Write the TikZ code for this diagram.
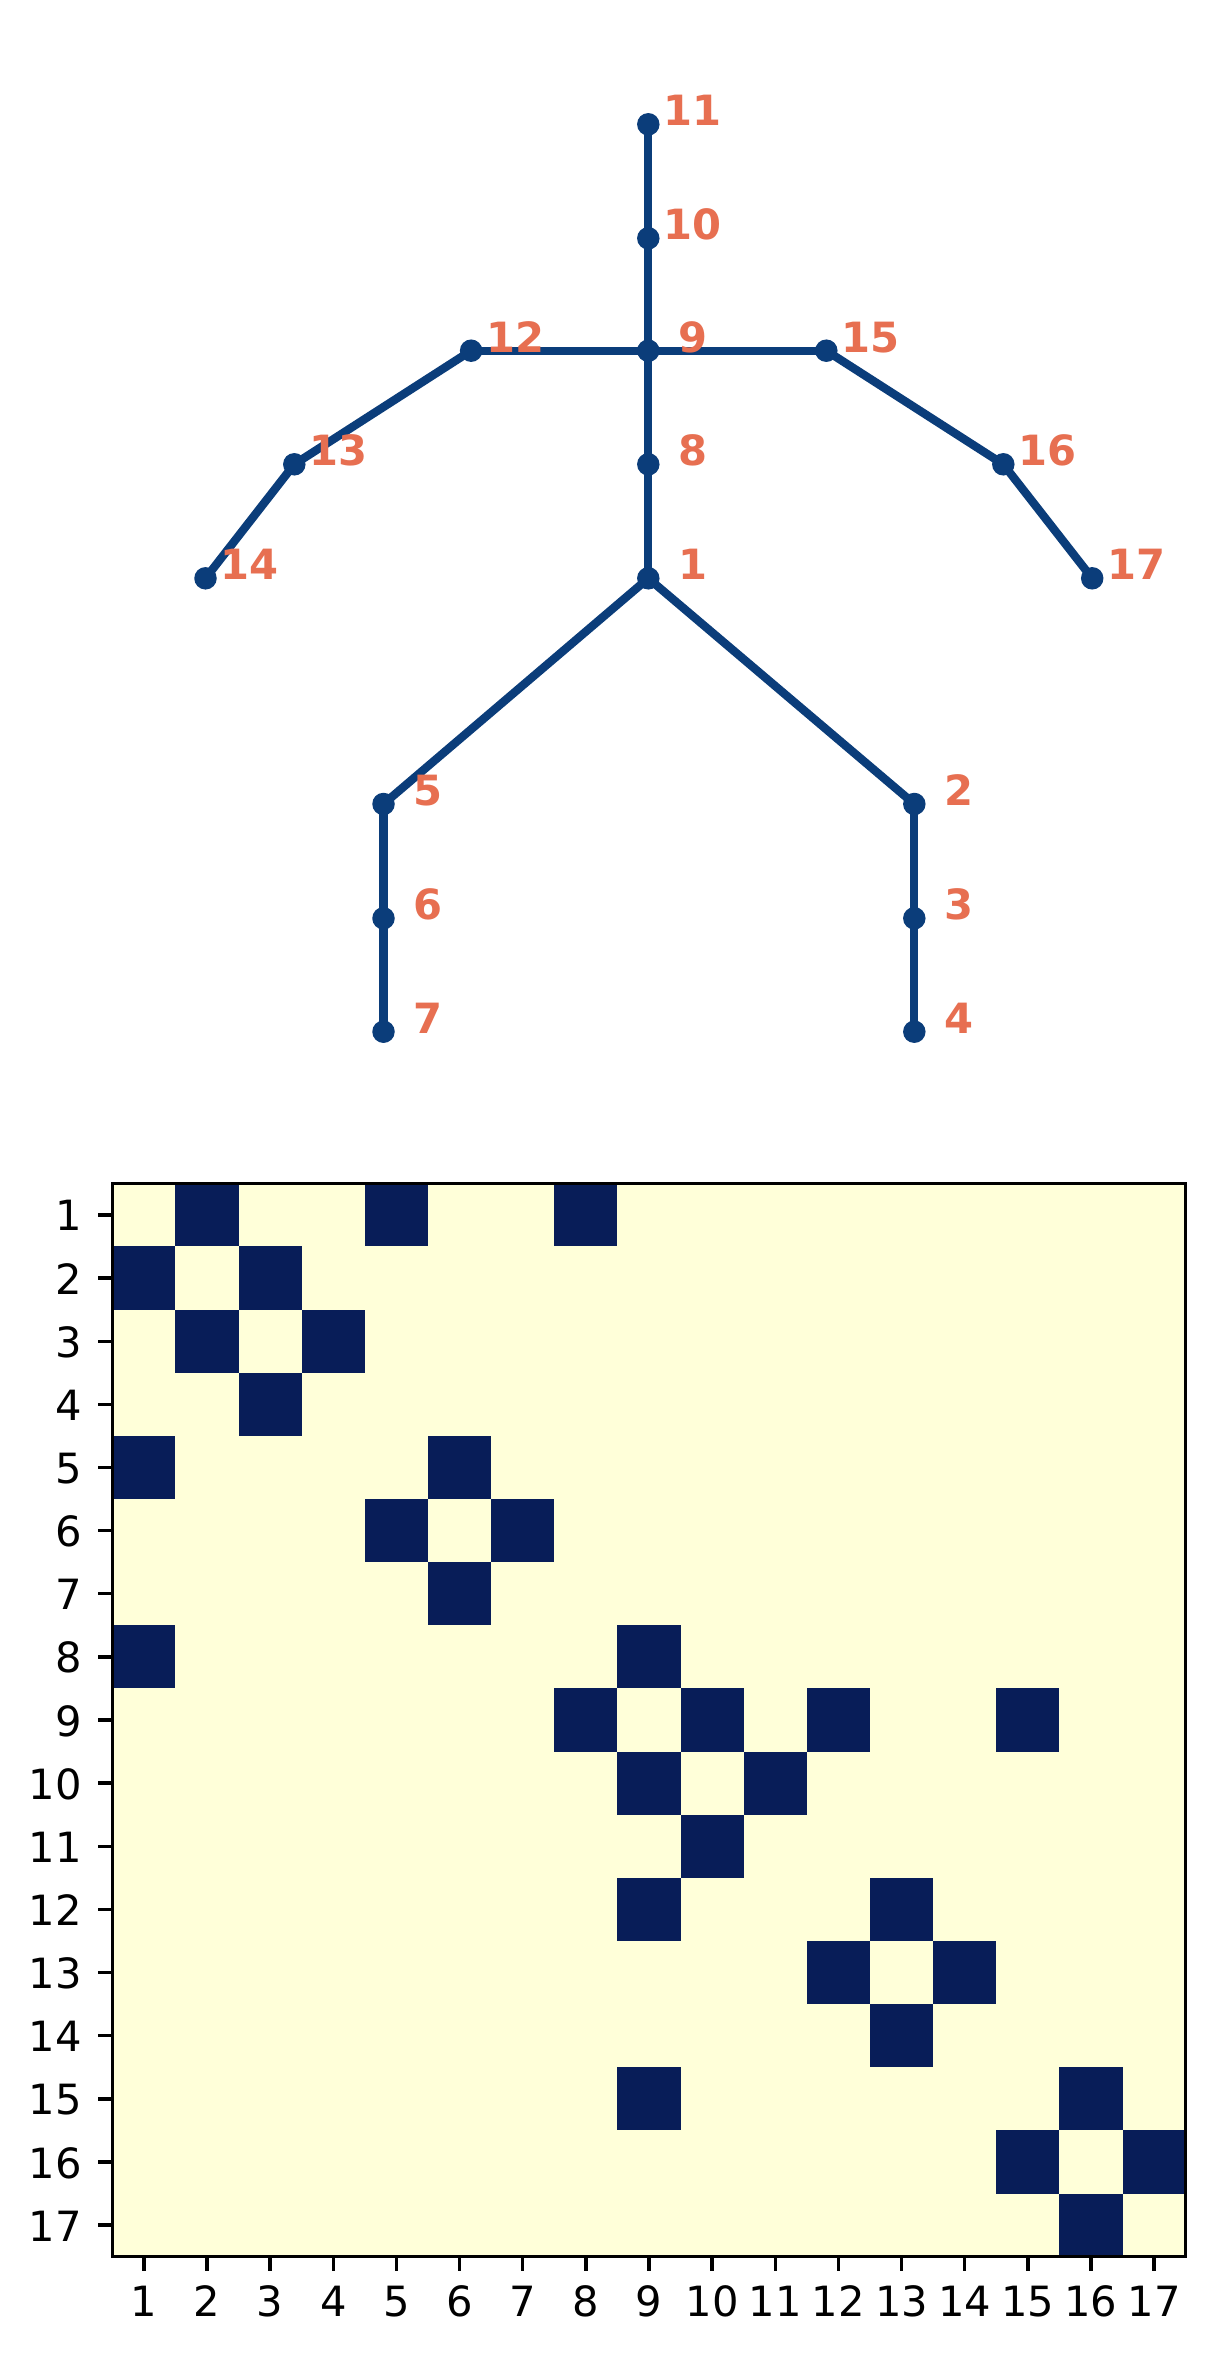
\documentclass[tikz,border=0pt]{standalone}
\usepackage{fontspec}
\setmainfont{DejaVu Sans}
\definecolor{skel}{RGB}{11,61,122}
\definecolor{lab}{RGB}{231,111,81}
\definecolor{cdark}{HTML}{081D58}
\definecolor{clight}{HTML}{FFFFD9}
\begin{document}
\begin{tikzpicture}[x=0.24pt,y=-0.24pt,
  bone/.style={draw=skel,line width=2pt},
  joint/.style={circle,fill=skel,inner sep=0pt,minimum size=5.4pt},
  jlabel/.style={text=lab,font=\bfseries\fontsize{10}{12}\selectfont,anchor=base,inner sep=0pt},
  axtick/.style={line width=0.8pt,draw=black},
  ticklab/.style={font=\fontsize{10}{12}\selectfont,inner sep=0pt}]
\useasboundingbox[fill=white] (0,0) rectangle (1214,2355);
% joint positions
\foreach \n/\x/\y in {1/648.3/578.3, 2/914.3/804, 3/914.3/918.3, 4/914.3/1031.7,
  5/383.5/804, 6/383.5/918.3, 7/383.5/1031.7, 8/648.3/464.3, 9/648.3/350.7,
  10/648.3/238.3, 11/648.3/124.3, 12/471.1/350.7, 13/294.3/464.3, 14/205.5/578.3,
  15/826.3/350.7, 16/1003.3/464.3, 17/1092.2/578.3}{
  \coordinate (c\n) at (\x,\y);
}
% bones
\foreach \a/\b in {1/2,2/3,3/4,1/5,5/6,6/7,1/8,8/9,9/10,10/11,9/12,12/13,13/14,9/15,15/16,16/17}{
  \draw[bone] (c\a) -- (c\b);
}
% joints and labels
\foreach \n in {1,...,17}{
  \node[joint] (j\n) at (c\n) {};
  \node[jlabel] (l\n) at ([shift={(44.3,1.5)}]c\n) {\n};
}
% adjacency matrix
\def\cw{63.141}
\fill[clight] (112.3,1183.3) rectangle (1185.7,2256.7);
\foreach \r/\c in {1/2,1/5,1/8,2/1,2/3,3/2,3/4,4/3,5/1,5/6,6/5,6/7,7/6,8/1,8/9,
  9/8,9/10,9/12,9/15,10/9,10/11,11/10,12/9,12/13,13/12,13/14,14/13,15/9,15/16,
  16/15,16/17,17/16}{
  \fill[cdark] ({112.3+(\c-1)*\cw},{1183.3+(\r-1)*\cw}) rectangle +(\cw,\cw);
}
\draw[line width=0.8pt] (112.3,1183.3) rectangle (1185.7,2256.7);
\foreach \i in {1,...,17}{
  \draw[axtick] (112.3,{1183.3+(\i-0.5)*\cw}) -- ++(-14.6,0);
  \node[ticklab,anchor=base east] (yl\i) at (82.8,{1183.3+(\i-0.5)*\cw+16}) {\i};
  \draw[axtick] ({112.3+(\i-0.5)*\cw},2256.7) -- ++(0,14.6);
  \node[ticklab,anchor=base] (xl\i) at ({112.3+(\i-0.5)*\cw},2316.7) {\i};
}
\end{tikzpicture}
\end{document}
